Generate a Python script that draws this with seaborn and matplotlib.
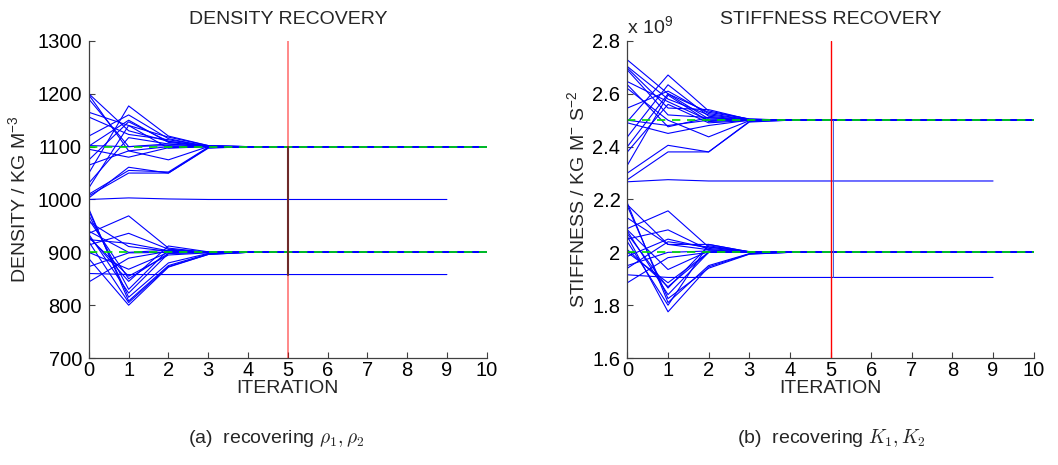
import numpy as np
import pandas as pd
import matplotlib
matplotlib.use("Agg")
import matplotlib.pyplot as plt
import matplotlib.transforms as mtransforms
from matplotlib.ticker import FuncFormatter
import seaborn as sns

# ---------------- data ----------------
iterations_full = list(range(11))
switch_iter = 5

rho_true = [1100, 900]
K_true = [2.5e9, 2.0e9]

# density trajectories (upper parameter rho_1)
rho_upper = [
    [1200, 1130, 1110, 1101, 1100, 1100, 1100, 1100, 1100, 1100, 1100],
    [1190, 1100, 1105, 1100, 1100, 1100, 1100, 1100, 1100, 1100, 1100],
    [1165, 1140, 1118, 1102, 1100, 1100, 1100, 1100, 1100, 1100, 1100],
    [1156, 1123, 1113, 1101, 1100, 1100, 1100, 1100, 1100, 1100, 1100],
    [1120, 1160, 1115, 1100, 1100, 1100, 1100, 1100, 1100, 1100, 1100],
    [1101, 1150, 1108, 1100, 1100, 1100, 1100, 1100, 1100, 1100, 1100],
    [1095, 1080, 1098, 1100, 1100, 1100, 1100, 1100, 1100, 1100, 1100],
    [1075, 1147, 1110, 1100, 1100, 1100, 1100, 1100, 1100, 1100, 1100],
    [1065, 1092, 1075, 1100, 1100, 1100, 1100, 1100, 1100, 1100, 1100],
    [1050, 1177, 1120, 1102, 1100, 1100, 1100, 1100, 1100, 1100, 1100],
    [1031, 1117, 1105, 1100, 1100, 1100, 1100, 1100, 1100, 1100, 1100],
    [1022, 1140, 1097, 1100, 1100, 1100, 1100, 1100, 1100, 1100, 1100],
    [1003, 1061, 1050, 1098, 1100, 1100, 1100, 1100, 1100, 1100, 1100],
    [1007, 1050, 1050, 1097, 1100, 1100, 1100, 1100, 1100, 1100, 1100],
    [1000, 1003, 1001, 1000, 1000, 1000, 1000, 1000, 1000, 1000],
    [1198, 1092, 1100, 1100, 1100, 1100, 1100, 1100, 1100, 1100, 1100],
    [1102, 1100, 1102, 1100, 1100, 1100, 1100, 1100, 1100, 1100, 1100],
    [1010, 1055, 1052, 1099, 1100, 1100, 1100, 1100, 1100, 1100, 1100],
]
# density trajectories (lower parameter rho_2)
rho_lower = [
    [982, 808, 875, 897, 900, 900, 900, 900, 900, 900, 900],
    [978, 815, 880, 898, 900, 900, 900, 900, 900, 900, 900],
    [970, 830, 905, 900, 900, 900, 900, 900, 900, 900, 900],
    [958, 911, 902, 900, 900, 900, 900, 900, 900, 900, 900],
    [936, 969, 908, 900, 900, 900, 900, 900, 900, 900, 900],
    [930, 845, 912, 901, 900, 900, 900, 900, 900, 900, 900],
    [924, 917, 903, 900, 900, 900, 900, 900, 900, 900, 900],
    [914, 936, 906, 900, 900, 900, 900, 900, 900, 900, 900],
    [900, 868, 900, 900, 900, 900, 900, 900, 900, 900, 900],
    [888, 800, 872, 896, 900, 900, 900, 900, 900, 900, 900],
    [873, 899, 900, 900, 900, 900, 900, 900, 900, 900, 900],
    [844, 889, 902, 900, 900, 900, 900, 900, 900, 900, 900],
    [934, 823, 898, 900, 900, 900, 900, 900, 900, 900, 900],
    [928, 855, 895, 899, 900, 900, 900, 900, 900, 900, 900],
    [860, 858, 858, 858, 858, 858, 858, 858, 858, 858],
    [920, 805, 873, 896, 900, 900, 900, 900, 900, 900, 900],
    [940, 900, 904, 900, 900, 900, 900, 900, 900, 900, 900],
    [962, 850, 898, 900, 900, 900, 900, 900, 900, 900, 900],
]

# stiffness trajectories, in units of 1e9 (upper parameter K_1)
K_upper = [
    [2.728, 2.600, 2.530, 2.505, 2.500, 2.500, 2.500, 2.500, 2.500, 2.500, 2.500],
    [2.703, 2.580, 2.520, 2.502, 2.500, 2.500, 2.500, 2.500, 2.500, 2.500, 2.500],
    [2.697, 2.546, 2.540, 2.503, 2.500, 2.500, 2.500, 2.500, 2.500, 2.500, 2.500],
    [2.646, 2.570, 2.500, 2.500, 2.500, 2.500, 2.500, 2.500, 2.500, 2.500, 2.500],
    [2.634, 2.475, 2.510, 2.500, 2.500, 2.500, 2.500, 2.500, 2.500, 2.500, 2.500],
    [2.620, 2.500, 2.437, 2.498, 2.500, 2.500, 2.500, 2.500, 2.500, 2.500, 2.500],
    [2.546, 2.610, 2.525, 2.502, 2.500, 2.500, 2.500, 2.500, 2.500, 2.500, 2.500],
    [2.495, 2.671, 2.535, 2.504, 2.500, 2.500, 2.500, 2.500, 2.500, 2.500, 2.500],
    [2.490, 2.450, 2.480, 2.500, 2.500, 2.500, 2.500, 2.500, 2.500, 2.500, 2.500],
    [2.437, 2.634, 2.515, 2.501, 2.500, 2.500, 2.500, 2.500, 2.500, 2.500, 2.500],
    [2.400, 2.600, 2.505, 2.500, 2.500, 2.500, 2.500, 2.500, 2.500, 2.500, 2.500],
    [2.380, 2.560, 2.490, 2.499, 2.500, 2.500, 2.500, 2.500, 2.500, 2.500, 2.500],
    [2.330, 2.595, 2.495, 2.500, 2.500, 2.500, 2.500, 2.500, 2.500, 2.500, 2.500],
    [2.300, 2.405, 2.380, 2.495, 2.500, 2.500, 2.500, 2.500, 2.500, 2.500, 2.500],
    [2.267, 2.275, 2.270, 2.270, 2.270, 2.270, 2.270, 2.270, 2.270, 2.270],
    [2.275, 2.380, 2.380, 2.493, 2.500, 2.500, 2.500, 2.500, 2.500, 2.500, 2.500],
    [2.500, 2.480, 2.500, 2.500, 2.500, 2.500, 2.500, 2.500, 2.500, 2.500, 2.500],
    [2.690, 2.520, 2.510, 2.500, 2.500, 2.500, 2.500, 2.500, 2.500, 2.500, 2.500],
]
# stiffness trajectories, in units of 1e9 (lower parameter K_2)
K_lower = [
    [2.186, 1.810, 1.950, 1.995, 2.000, 2.000, 2.000, 2.000, 2.000, 2.000, 2.000],
    [2.175, 1.825, 1.940, 1.993, 2.000, 2.000, 2.000, 2.000, 2.000, 2.000, 2.000],
    [2.130, 2.030, 2.030, 2.002, 2.000, 2.000, 2.000, 2.000, 2.000, 2.000, 2.000],
    [2.090, 2.157, 2.020, 2.003, 2.000, 2.000, 2.000, 2.000, 2.000, 2.000, 2.000],
    [2.085, 1.935, 2.005, 2.000, 2.000, 2.000, 2.000, 2.000, 2.000, 2.000, 2.000],
    [2.070, 1.865, 2.025, 2.001, 2.000, 2.000, 2.000, 2.000, 2.000, 2.000, 2.000],
    [2.050, 2.085, 2.010, 2.000, 2.000, 2.000, 2.000, 2.000, 2.000, 2.000, 2.000],
    [2.000, 1.885, 2.000, 2.000, 2.000, 2.000, 2.000, 2.000, 2.000, 2.000, 2.000],
    [1.985, 2.050, 2.015, 2.001, 2.000, 2.000, 2.000, 2.000, 2.000, 2.000, 2.000],
    [1.950, 2.000, 2.005, 2.000, 2.000, 2.000, 2.000, 2.000, 2.000, 2.000, 2.000],
    [1.885, 1.980, 2.000, 2.000, 2.000, 2.000, 2.000, 2.000, 2.000, 2.000, 2.000],
    [2.060, 1.775, 1.945, 1.994, 2.000, 2.000, 2.000, 2.000, 2.000, 2.000, 2.000],
    [2.080, 1.840, 2.000, 2.000, 2.000, 2.000, 2.000, 2.000, 2.000, 2.000, 2.000],
    [2.040, 1.800, 2.030, 2.002, 2.000, 2.000, 2.000, 2.000, 2.000, 2.000, 2.000],
    [1.915, 1.905, 1.905, 1.905, 1.905, 1.905, 1.905, 1.905, 1.905, 1.905],
    [2.180, 2.030, 2.010, 2.000, 2.000, 2.000, 2.000, 2.000, 2.000, 2.000, 2.000],
    [2.010, 1.870, 2.000, 2.000, 2.000, 2.000, 2.000, 2.000, 2.000, 2.000, 2.000],
    [1.940, 2.040, 2.020, 2.001, 2.000, 2.000, 2.000, 2.000, 2.000, 2.000, 2.000],
]
K_scale = 1e9

stuck_run = 14

rho_ticks = [700, 800, 900, 1000, 1100, 1200, 1300]
K_ticks = [1.6e9, 1.8e9, 2.0e9, 2.2e9, 2.4e9, 2.6e9, 2.8e9]
x_ticks = iterations_full


def to_long(upper, lower, scale=1.0):
    rows = []
    unit = 0
    for group in (upper, lower):
        for traj in group:
            for it, v in enumerate(traj):
                rows.append({"iter": it, "value": v * scale, "unit": unit})
            unit += 1
    return pd.DataFrame(rows)


df_rho = to_long(rho_upper, rho_lower)
df_K = to_long(K_upper, K_lower, K_scale)

# ---------------- style ----------------
sns.set_style("ticks")
plt.rcParams["font.family"] = ["Liberation Sans", "DejaVu Sans"]
plt.rcParams["mathtext.fontset"] = "cm"
FS = 14

fig = plt.figure(figsize=(10.58, 4.65), dpi=100)
ax1 = fig.add_axes([0.084, 0.230, 0.376, 0.682])
ax2 = fig.add_axes([0.593, 0.230, 0.384, 0.682])

spine_col = "#404040"


def style_axes(ax):
    for s in ["top", "right"]:
        ax.spines[s].set_visible(False)
    for s in ["left", "bottom"]:
        ax.spines[s].set_color(spine_col)
        ax.spines[s].set_linewidth(0.9)
    ax.tick_params(direction="in", length=4, width=0.8, color=spine_col,
                   labelsize=FS + 0.5, labelcolor="black")
    ax.tick_params(axis="x", pad=2)
    ax.tick_params(axis="y", pad=5)
    ax.set_xlim(0, 10)
    ax.set_xticks(x_ticks)
    ax.grid(False)


green = "#00dd00"

# ---- left: density ----
sns.lineplot(data=df_rho, x="iter", y="value", units="unit", estimator=None,
             color="blue", lw=0.8, ax=ax1, zorder=2)
for tv in rho_true:
    ax1.plot([0, 10], [tv, tv], color=green, lw=1.2, ls=(0, (5, 4)), zorder=2.5)
ax1.axvline(switch_iter, color="red", alpha=0.5, lw=1.3, zorder=3)
ax1.plot([switch_iter, switch_iter],
         [rho_lower[stuck_run][switch_iter], rho_true[0]],
         color="#6e2a2a", lw=1.5, zorder=4)
style_axes(ax1)
ax1.set_ylim(700, 1300)
ax1.set_yticks(rho_ticks)
ax1.set_title("DENSITY RECOVERY", fontsize=FS, pad=12)
ax1.set_xlabel("ITERATION", fontsize=FS, labelpad=0)
ax1.set_ylabel("DENSITY / KG M$\\mathregular{^{-3}}$", fontsize=FS, labelpad=6)

# ---- right: stiffness ----
sns.lineplot(data=df_K, x="iter", y="value", units="unit", estimator=None,
             color="blue", lw=0.8, ax=ax2, zorder=2)
for tv in K_true:
    ax2.plot([0, 10], [tv, tv], color=green, lw=1.2, ls=(0, (5, 4)), zorder=2.5)
shift = mtransforms.ScaledTranslation(2.0 / 100, 0, fig.dpi_scale_trans)
ax2.plot([switch_iter, switch_iter],
         [K_lower[stuck_run][switch_iter] * K_scale, K_true[0]],
         color="#4060e0", lw=0.7, zorder=3, transform=ax2.transData + shift)
ax2.axvline(switch_iter, color="red", lw=1.0, zorder=4)
style_axes(ax2)
ax2.set_ylim(1.6e9, 2.8e9)
ax2.set_yticks(K_ticks)
ax2.yaxis.set_major_formatter(FuncFormatter(lambda v, p: f"{v / K_scale:g}"))
ax2.set_title("STIFFNESS RECOVERY", fontsize=FS, pad=12)
ax2.set_xlabel("ITERATION", fontsize=FS, labelpad=0)
ax2.set_ylabel("STIFFNESS / KG M$\\mathregular{^{-}}$ S$\\mathregular{^{-2}}$",
               fontsize=FS, labelpad=3)
ax2.text(0.0, 1.012, "x 10$\\mathregular{^{9}}$", transform=ax2.transAxes,
         fontsize=FS, ha="left", va="bottom")

for ax in (ax1, ax2):
    leg = ax.get_legend()
    if leg is not None:
        leg.remove()

# ---- captions ----
fig.text(0.261, 0.058, "(a)  recovering $\\rho_1, \\rho_2$", fontsize=14,
         ha="center", va="center")
fig.text(0.786, 0.058, "(b)  recovering $K_1, K_2$", fontsize=14,
         ha="center", va="center")

fig.savefig("out.png", dpi=100)
